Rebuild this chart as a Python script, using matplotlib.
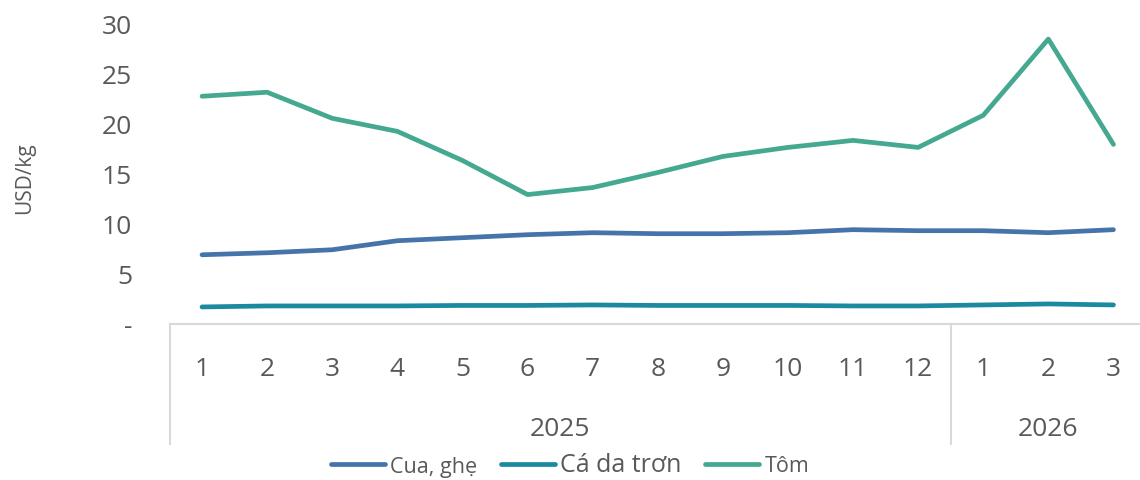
import numpy as np
import matplotlib
matplotlib.use("Agg")
import matplotlib.pyplot as plt
import matplotlib.transforms as mtransforms

plt.rcParams['font.family'] = ['Open Sans', 'DejaVu Sans']

months = ['1', '2', '3', '4', '5', '6', '7', '8', '9', '10', '11', '12', '1', '2', '3']
years = ['2025', '2026']
year_len = [12, 3]

cua_ghe = [6.9, 7.1, 7.4, 8.3, 8.6, 8.9, 9.1, 9.0, 9.0, 9.1, 9.4, 9.3, 9.3, 9.1, 9.4]
ca_da_tron = [1.7, 1.8, 1.8, 1.8, 1.85, 1.85, 1.9, 1.85, 1.85, 1.85, 1.8, 1.8, 1.9, 2.0, 1.9]
tom = [22.7, 23.1, 20.5, 19.2, 16.3, 12.9, 13.6, 15.1, 16.7, 17.6, 18.3, 17.6, 20.8, 28.4, 17.9]

series = [('Cua, ghẹ', cua_ghe, '#4574AB'),
          ('Cá da trơn', ca_da_tron, '#1B8AA1'),
          ('Tôm', tom, '#45A890')]

grey = '#595959'
line_grey = '#D9D9D9'

fig = plt.figure(figsize=(11.4, 4.81), dpi=100)
ax = fig.add_axes([169.5 / 1140, 156 / 481, 976.5 / 1140, 301 / 481])

x = np.arange(len(months))
handles = []
for name, vals, col in series:
    h, = ax.plot(x, vals, color=col, lw=3.4, solid_capstyle='round',
                 solid_joinstyle='round', label=name)
    handles.append(h)

ax.set_xlim(-0.5, len(months) - 0.5)
ax.set_ylim(0, 30)
ax.set_yticks([0, 5, 10, 15, 20, 25, 30])
ax.set_yticklabels(['-', '5', '10', '15', '20', '25', '30'])
ax.tick_params(axis='y', length=0, pad=27, labelsize=19, labelcolor=grey)
ax.set_ylabel('USD/kg', fontsize=15, color=grey)
ax.yaxis.set_label_coords(-0.138, 0.488)

ax.set_xticks(x)
ax.set_xticklabels(months)
ax.tick_params(axis='x', length=0, pad=23, labelsize=19, labelcolor=grey)

for s in ['top', 'right', 'left']:
    ax.spines[s].set_visible(False)
ax.spines['bottom'].set_color(line_grey)
ax.spines['bottom'].set_linewidth(1.5)

# multi-level category axis: separators and year labels
trans = mtransforms.blended_transform_factory(ax.transData, ax.transAxes)
bounds = np.concatenate([[0], np.cumsum(year_len)]) - 0.5
for b in bounds:
    ax.plot([b, b], [0, -120 / 301], color=line_grey, lw=1.5,
            transform=trans, clip_on=False)
for i, yr in enumerate(years):
    mid = (bounds[i] + bounds[i + 1]) / 2
    ax.text(mid, -105 / 301, yr, transform=trans, ha='center', va='center',
            fontsize=19, color=grey)

leg = fig.legend(handles=handles, loc='center', bbox_to_anchor=(0.5, 1 - 466 / 481),
                 ncol=3, frameon=False, handlelength=2.5, handletextpad=0.25,
                 columnspacing=1.1, fontsize=15.5)
for t in leg.get_texts():
    t.set_color(grey)
leg.get_texts()[1].set_fontsize(18)

fig.savefig('out.png', dpi=100)
